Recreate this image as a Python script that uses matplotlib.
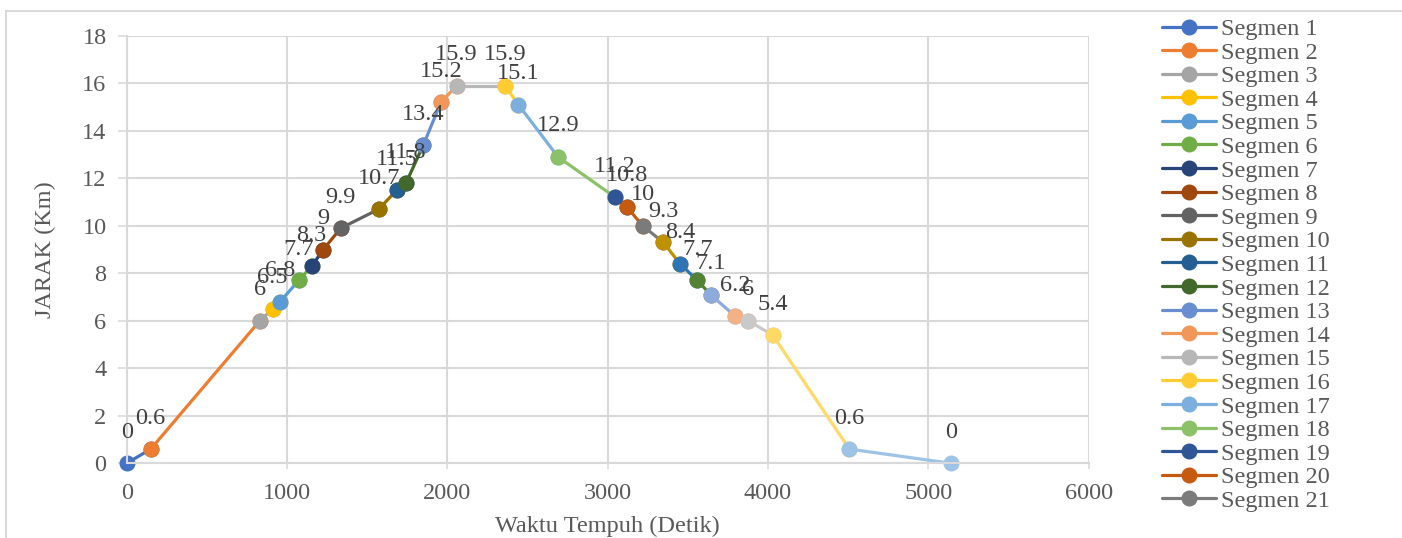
import matplotlib
matplotlib.use("Agg")
import matplotlib.pyplot as plt
from matplotlib.patches import Rectangle

# Waktu tempuh kumulatif (detik) dan jarak kumulatif (km) di tiap titik
waktu = [0, 150, 830, 910, 956, 1073, 1154, 1226, 1335, 1572, 1684, 1742, 1850,
         1960, 2058, 2360, 2443, 2690, 3047, 3119, 3218, 3347, 3451, 3559, 3642,
         3794, 3877, 4029, 4507, 5141]
jarak = [0, 0.6, 6, 6.5, 6.8, 7.7, 8.3, 9, 9.9, 10.7, 11.5, 11.8, 13.4,
         15.2, 15.9, 15.9, 15.1, 12.9, 11.2, 10.8, 10, 9.3, 8.4, 7.7, 7.1,
         6.2, 6, 5.4, 0.6, 0]

# warna seri ala Office
warna = ["#4472C4", "#ED7D31", "#A5A5A5", "#FFC000", "#5B9BD5", "#70AD47",
         "#264478", "#9E480E", "#636363", "#997300", "#255E91", "#43682B",
         "#698ED0", "#F1975A", "#B7B7B7", "#FFCD33", "#7CAFDD", "#8CC168",
         "#2F5597", "#C55A11", "#7B7B7B", "#BF9000", "#2E75B6", "#548235",
         "#8FAADC", "#F4B183", "#C9C9C9", "#FFD966", "#9DC3E6"]
jumlah_legenda = 21

plt.rcParams["font.family"] = ["Liberation Serif", "DejaVu Serif"]
FS = 17.5
abu_teks = "#595959"
abu_grid = "#D9D9D9"

fig = plt.figure(figsize=(14.02, 5.38), dpi=100)
# bingkai area grafik
fig.patches.append(Rectangle((6 / 1402, -0.1), 1.2, 0.1 + (538 - 11) / 538,
                             transform=fig.transFigure, fill=False,
                             edgecolor=abu_grid, linewidth=1.5))
ax = fig.add_axes([0.09037, 0.13885, 0.68616, 0.79461])

handles = []
for i in range(len(waktu) - 1):
    h, = ax.plot(waktu[i:i + 2], jarak[i:i + 2], color=warna[i], linewidth=2.3,
                 marker="o", markersize=10.5, label=f"Segmen {i + 1}",
                 solid_capstyle="round", clip_on=False)
    handles.append(h)

# label nilai di atas tiap titik
for x, y in zip(waktu, jarak):
    ax.annotate(f"{y:g}", (x, y), xytext=(0, 31), textcoords="offset pixels",
                ha="center", va="center", fontsize=FS, color="#404040",
                annotation_clip=False)

ax.set_xlim(0, 6000)
ax.set_ylim(0, 18)
ax.set_xticks(range(0, 6001, 1000))
ax.set_yticks(range(0, 19, 2))
ax.grid(True, color=abu_grid, linewidth=1.5)
ax.set_axisbelow(True)
for s in ["top", "right"]:
    ax.spines[s].set_visible(False)
for s in ["left", "bottom"]:
    ax.spines[s].set_color(abu_grid)
    ax.spines[s].set_linewidth(1.5)
ax.tick_params(axis="y", length=6.5, width=1.1, color=abu_grid, pad=8,
               labelsize=FS, labelcolor=abu_teks)
ax.tick_params(axis="x", length=4, width=1.1, color=abu_grid, pad=10,
               labelsize=FS, labelcolor=abu_teks)

ax.set_xlabel("Waktu Tempuh (Detik)", fontsize=FS, color=abu_teks, labelpad=9)
ax.set_ylabel("JARAK (Km)", fontsize=FS, color=abu_teks, labelpad=19)

leg = fig.legend(handles=handles[:jumlah_legenda], loc="upper left",
                 bbox_to_anchor=(1162 / 1402, (538 - 18) / 538),
                 frameon=False, fontsize=FS, borderpad=0, borderaxespad=0,
                 handlelength=2.22, handletextpad=0.2, labelspacing=0.065)
for t in leg.get_texts():
    t.set_color(abu_teks)

fig.savefig("out.png", dpi=100)
